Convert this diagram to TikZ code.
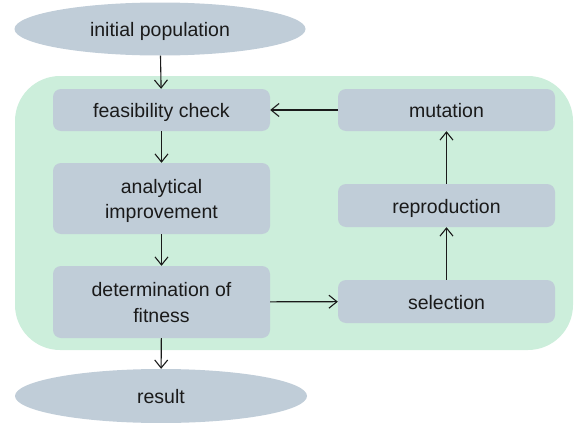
\documentclass[tikz,border=0pt]{standalone}
\usepackage{fontspec}
\setmainfont{Liberation Sans}
\usepackage{xcolor}
\usetikzlibrary{arrows.meta,positioning,shapes.geometric}

\definecolor{boxgray}{RGB}{192,205,216}
\definecolor{loopgreen}{RGB}{204,238,219}
\definecolor{textdark}{RGB}{26,26,26}

\begin{document}
\begin{tikzpicture}[
    x=1pt, y=-1pt,
    box/.style={fill=boxgray, rounded corners=8pt, minimum width=217pt, minimum height=42pt, align=center, inner sep=0pt, text height=15pt, text depth=0pt, text=textdark, font=\fontsize{19.5}{25.5}\selectfont},
    tallbox/.style={box, minimum height=72pt, text height=40.5pt},
    oval/.style={ellipse, fill=boxgray, minimum width=291pt, minimum height=53pt, inner sep=0pt, text height=14pt, text depth=0pt, text=textdark, font=\fontsize{19.5}{25.5}\selectfont},
    arrow/.style={-{Straight Barb[length=8pt,width=13pt]}, line width=1.1pt, textdark}
]
    \useasboundingbox (0,0) rectangle (587,423);
    % Loop background
    \fill[loopgreen, rounded corners=45pt] (15,76) rectangle (573,350);

    \node[oval] (init) at (160,29) {initial population};
    \node[box] (feas) at (161.5,110) {feasibility check};
    \node[tallbox, minimum height=71pt] (analyt) at (161.5,198.5) {analytical\\improvement};
    \node[tallbox] (fitness) at (161.5,302) {determination of\\fitness};
    \node[box] (mut) at (446.5,110) {mutation};
    \node[box, minimum height=43pt] (repro) at (446.5,205.5) {reproduction};
    \node[box, minimum height=43pt] (select) at (446.5,301.5) {selection};
    \node[oval, minimum width=292pt, minimum height=54pt] (result) at (161,396) {result};

    % Main chain
    \draw[arrow] (init) -- (feas);
    \draw[arrow] (feas) -- (analyt);
    \draw[arrow] (analyt) -- (fitness);
    \draw[arrow] (fitness) -- (result);

    % Evolution loop
    \draw[arrow] (fitness) -- (select);
    \draw[arrow] (select) -- (repro);
    \draw[arrow] (repro) -- (mut);
    \draw[arrow] (mut) -- (feas);
\end{tikzpicture}
\end{document}
